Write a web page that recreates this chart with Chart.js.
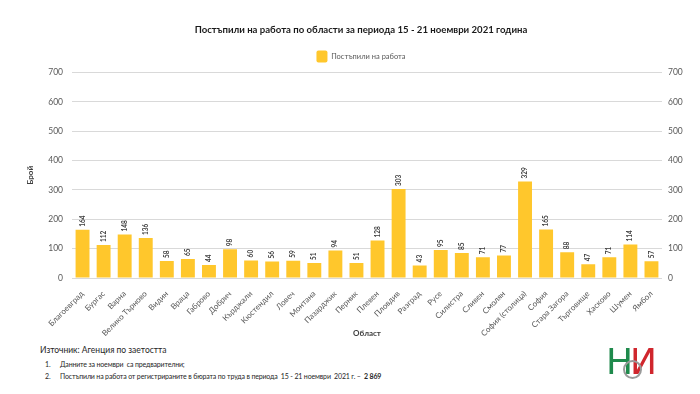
<!DOCTYPE html>
<html>
<head>
<meta charset="utf-8">
<script src="https://cdn.jsdelivr.net/npm/chart.js@4.4.0/dist/chart.umd.min.js"></script>
<style>
  html, body { margin: 0; padding: 0; background: #fff; }
  #wrap { position: relative; width: 700px; height: 394px; font-family: Lato, "Open Sans", sans-serif; }
  #chart { position: absolute; left: 0; top: 0; }
  .src { position: absolute; left: 40px; top: 345px; font-size: 8.5px; color: #262626; }
  .notes { position: absolute; left: 45px; top: 358px; font-size: 7px; letter-spacing: -0.15px; color: #262626; line-height: 12px; }
  .notes span { display: inline-block; width: 15px; }
  .logo { position: absolute; left: 606px; top: 338px; width: 50px; height: 48px; font-family: "DejaVu Sans", sans-serif; font-size: 36px; line-height: 48px; }
  .logo .n { color: #1f8a4c; }
  .logo .i { color: #d0262d; margin-left: -3px; }
  .logo .ring { position: absolute; left: 17px; top: 22px; width: 15px; height: 15px; border: 2px solid #9a9a9a; border-radius: 50%; }
</style>
</head>
<body>
<div id="wrap">
  <canvas id="chart" width="700" height="345"></canvas>
  <div class="src">Източник: Агенция по заетостта</div>
  <div class="notes">
    <div><span>1.</span>Данните за ноември&nbsp; са предварителни;</div>
    <div><span>2.</span>Постъпили на работа от регистрираните в бюрата по труда в периода&nbsp; 15 - 21 ноември&nbsp; 2021 г. –&nbsp; <b>2 869</b></div>
  </div>
  <div class="logo"><div class="ring"></div><span class="n">Н</span><span class="i">И</span></div>
</div>
<script>
// Data
const regions = [
  "Благоевград", "Бургас", "Варна", "Велико Търново", "Видин", "Враца", "Габрово",
  "Добрич", "Кърджали", "Кюстендил", "Ловеч", "Монтана", "Пазарджик", "Перник",
  "Плевен", "Пловдив", "Разград", "Русе", "Силистра", "Сливен", "Смолян",
  "София (столица)", "София", "Стара Загора", "Търговище", "Хасково", "Шумен", "Ямбол"
];
const hired = [
  164, 112, 148, 136, 58, 65, 44,
  98, 60, 56, 59, 51, 94, 51,
  128, 303, 43, 95, 85, 71, 77,
  329, 165, 88, 47, 71, 114, 57
];
const yTicks = [0, 100, 200, 300, 400, 500, 600, 700];

const barColor = "#FFC72C";
const textGrey = "#595959";
const fontFam = "Lato, 'Open Sans', sans-serif";

// draws the value above every bar, rotated
const barValues = {
  id: "barValues",
  afterDatasetsDraw(chart) {
    const ctx = chart.ctx;
    const meta = chart.getDatasetMeta(0);
    ctx.save();
    ctx.font = "bold 6.5px " + fontFam;
    ctx.fillStyle = "#404040";
    ctx.textAlign = "left";
    ctx.textBaseline = "middle";
    meta.data.forEach((bar, i) => {
      ctx.save();
      ctx.translate(bar.x, bar.y - 3);
      ctx.rotate(-Math.PI / 2);
      ctx.fillText(String(hired[i]), 0, 0);
      ctx.restore();
    });
    ctx.restore();
  },
};

const ctx = document.getElementById("chart").getContext("2d");
new Chart(ctx, {
  type: "bar",
  data: {
    labels: regions,
    datasets: [
      {
        label: "Постъпили на работа",
        data: hired,
        backgroundColor: barColor,
        borderWidth: 0,
        categoryPercentage: 1,
        barPercentage: 0.66,
      },
    ],
  },
  options: {
    responsive: false,
    animation: false,
    layout: { padding: { left: 22, right: 0, top: 0, bottom: 5 } },
    plugins: {
      title: {
        display: true,
        text: "Постъпили на работа по области за периода 15 - 21 ноември 2021 година",
        color: "#1a1a1a",
        font: { family: fontFam, size: 9.6, weight: "bold" },
        padding: { top: 24, bottom: 11 },
      },
      legend: {
        display: true,
        labels: {
          color: textGrey,
          font: { family: fontFam, size: 7.5 },
          boxWidth: 11,
          boxHeight: 12,
          useBorderRadius: true,
          borderRadius: 2,
          padding: 4,
        },
      },
      tooltip: { enabled: false },
    },
    scales: {
      x: {
        grid: { display: false },
        border: { display: false },
        ticks: {
          color: textGrey,
          font: { family: fontFam, size: 8 },
          autoSkip: false,
          minRotation: 45,
          maxRotation: 45,
          padding: 3,
        },
        title: {
          display: true,
          text: "Област",
          color: "#404040",
          font: { family: fontFam, size: 8, weight: "bold" },
          padding: { top: 0, bottom: 2 },
        },
        afterFit: (s) => { s.height = 62; },
      },
      y: {
        position: "left",
        min: 0,
        max: 700,
        afterBuildTicks: (s) => { s.ticks = yTicks.map((v) => ({ value: v })); },
        grid: { color: "#d9d9d9", drawTicks: false },
        border: { display: false },
        ticks: { color: textGrey, font: { family: fontFam, size: 8.5 }, padding: 9 },
        title: {
          display: true,
          text: "Брой",
          color: "#404040",
          font: { family: fontFam, size: 8, weight: "bold" },
        },
        afterFit: (s) => { s.width = 50; },
      },
      y2: {
        position: "right",
        min: 0,
        max: 700,
        afterBuildTicks: (s) => { s.ticks = yTicks.map((v) => ({ value: v })); },
        grid: { display: false, drawTicks: false },
        border: { display: false },
        ticks: { color: textGrey, font: { family: fontFam, size: 8.5 }, padding: 6 },
        afterFit: (s) => { s.width = 38; },
      },
    },
  },
  plugins: [barValues],
});
</script>
</body>
</html>
